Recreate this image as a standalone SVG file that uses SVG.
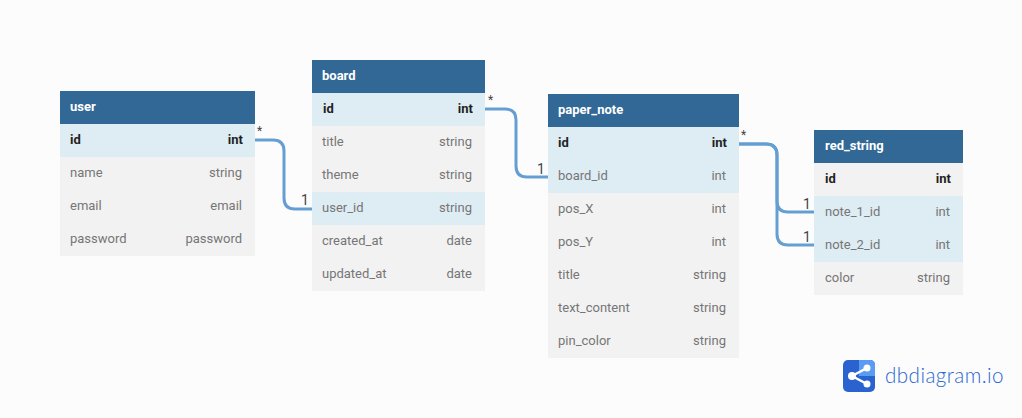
<svg xmlns="http://www.w3.org/2000/svg" width="1022" height="418" viewBox="0 0 1022 418">
<style>
text{font-family:Roboto,"Liberation Sans",sans-serif;font-size:13px}
.bg{fill:#fcfcfc}
.hd{fill:#316896}
.ht{fill:#fff;font-weight:700}
.r{fill:#f2f2f2}
.h{fill:#deecf4}
.n{fill:#767676}
.p{fill:#1f1f1f;font-weight:700}
.e{text-anchor:end}
.c{fill:none;stroke:#659fd1;stroke-width:3}
.m{fill:#444;font-size:14px}
.s{fill:#444;font-size:12px}
</style>
<rect class="bg" width="1022" height="418"/>
<g id="connectors">
<path class="c" d="M255 140H273Q284 140 284 151V198Q284 209 295 209H312"/>
<path class="c" d="M485 109H505Q516 109 516 120V166Q516 177 527 177H548"/>
<path class="c" d="M739 144H766Q777 144 777 155V201Q777 212 788 212H814"/>
<path class="c" d="M739 144H766Q777 144 777 155V234Q777 245 788 245H814"/>
<text class="s" x="257" y="135">*</text>
<text class="m" x="301" y="205">1</text>
<text class="s" x="488" y="104">*</text>
<text class="m" x="537" y="174">1</text>
<text class="s" x="741" y="139">*</text>
<text class="m" x="803" y="209">1</text>
<text class="m" x="803" y="242">1</text>
</g>
<g id="user">
<rect class="hd" x="60" y="91" width="195" height="33"/><text class="ht" x="70" y="111">user</text>
<rect class="h" x="60" y="124" width="195" height="33"/><text class="p" x="70" y="144">id</text><text class="p e" x="243" y="144">int</text>
<rect class="r" x="60" y="157" width="195" height="99"/>
<text class="n" x="70" y="177">name</text><text class="n e" x="242" y="177">string</text>
<text class="n" x="70" y="210">email</text><text class="n e" x="242" y="210">email</text>
<text class="n" x="70" y="243">password</text><text class="n e" x="242" y="243">password</text>
</g>
<g id="board">
<rect class="hd" x="312" y="60" width="173" height="33"/><text class="ht" x="322" y="80">board</text>
<rect class="h" x="312" y="93" width="173" height="33"/><text class="p" x="323" y="113">id</text><text class="p e" x="473" y="113">int</text>
<rect class="r" x="312" y="126" width="173" height="165"/>
<rect class="h" x="312" y="192" width="173" height="33"/>
<text class="n" x="322" y="146">title</text><text class="n e" x="472" y="146">string</text>
<text class="n" x="322" y="179">theme</text><text class="n e" x="472" y="179">string</text>
<text class="n" x="322" y="212">user_id</text><text class="n e" x="472" y="212">string</text>
<text class="n" x="322" y="245">created_at</text><text class="n e" x="472" y="245">date</text>
<text class="n" x="322" y="278">updated_at</text><text class="n e" x="472" y="278">date</text>
</g>
<g id="paper_note">
<rect class="hd" x="548" y="94" width="191" height="33"/><text class="ht" x="558" y="114">paper_note</text>
<rect class="h" x="548" y="127" width="191" height="66"/><text class="p" x="558" y="147">id</text><text class="p e" x="727" y="147">int</text>
<rect class="r" x="548" y="193" width="191" height="165"/>
<text class="n" x="558" y="180">board_id</text><text class="n e" x="726" y="180">int</text>
<text class="n" x="558" y="213">pos_X</text><text class="n e" x="726" y="213">int</text>
<text class="n" x="558" y="246">pos_Y</text><text class="n e" x="726" y="246">int</text>
<text class="n" x="558" y="279">title</text><text class="n e" x="726" y="279">string</text>
<text class="n" x="558" y="312">text_content</text><text class="n e" x="726" y="312">string</text>
<text class="n" x="558" y="345">pin_color</text><text class="n e" x="726" y="345">string</text>
</g>
<g id="red_string">
<rect class="hd" x="814" y="130" width="149" height="33"/><text class="ht" x="825" y="150">red_string</text>
<rect class="r" x="814" y="163" width="149" height="132"/><text class="p" x="825" y="183">id</text><text class="p e" x="951" y="183">int</text>
<rect class="h" x="814" y="196" width="149" height="66"/>
<text class="n" x="825" y="216">note_1_id</text><text class="n e" x="950" y="216">int</text>
<text class="n" x="825" y="249">note_2_id</text><text class="n e" x="950" y="249">int</text>
<text class="n" x="825" y="282">color</text><text class="n e" x="950" y="282">string</text>
</g>
<g id="logo">
<rect x="843" y="360" width="32" height="32" rx="5" fill="#2a63d0"/>
<path d="M859 360H870Q875 360 875 365V376H859Z" fill="#5a9cf0"/>
<path d="M867 368L852 376L867 384" fill="none" stroke="#fff" stroke-width="2.5"/>
<circle cx="852" cy="376" r="4" fill="#fff"/><circle cx="867" cy="368" r="3.5" fill="#fff"/><circle cx="867" cy="384" r="3.5" fill="#fff"/>
<text x="885" y="383" style="font-size:20.6px;font-family:Lato,sans-serif;font-weight:300;letter-spacing:.45px" fill="#2a66d2">dbdiagram.io</text>
</g>
</svg>
